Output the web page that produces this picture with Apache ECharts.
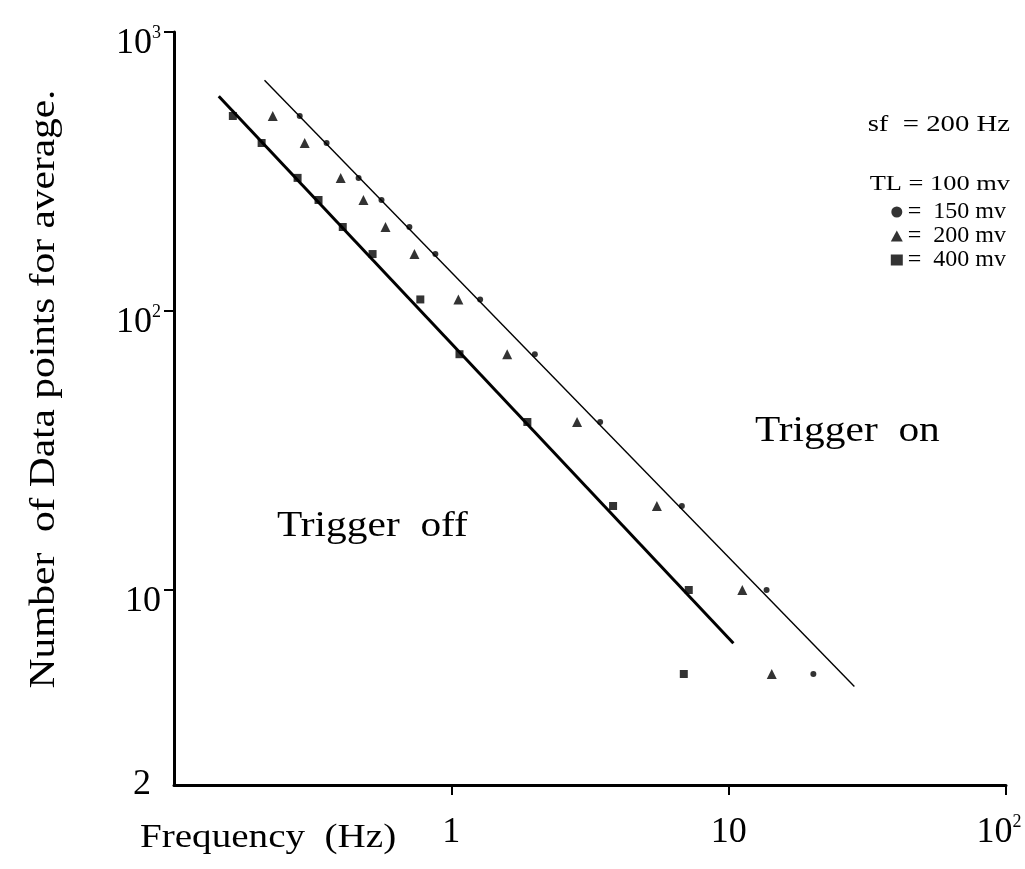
<!DOCTYPE html>
<html>
<head>
<meta charset="utf-8">
<script src="https://cdn.jsdelivr.net/npm/echarts@6/dist/echarts.min.js"></script>
<style>
  html, body { margin: 0; padding: 0; background: #fff; }
  #chart { width: 1025px; height: 869px; }
</style>
</head>
<body>
<div id="chart"></div>
<script>
// number of data points per frequency row (shared by all three thresholds)
const pointCounts = [500, 400, 300, 250, 200, 160, 110, 70, 40, 20, 10, 5];

// frequency (Hz) for each threshold level
const freq150 = [0.284, 0.355, 0.463, 0.560, 0.706, 0.876, 1.27, 2.00, 3.44, 6.78, 13.7, 20.2];
const freq200 = [0.227, 0.296, 0.399, 0.482, 0.579, 0.736, 1.06, 1.59, 2.84, 5.51, 11.2, 14.3];
const freq400 = [0.163, 0.207, 0.279, 0.332, 0.406, 0.520, 0.773, 1.07, 1.88, 3.83, 7.18, 6.89];

// boundary lines (end points)
const thinLineX = [0.212, 28.4];
const thinLineY = [671, 4.51];
const thickLineX = [0.145, 10.4];
const thickLineY = [588, 6.44];

// tick positions
const xTicks = [1, 10, 100];
const yTicks = [10, 100, 1000];

const seriesNames = ['=  150 mv', '=  200 mv', '=  400 mv'];

const FONT = '"Liberation Serif", "DejaVu Serif", serif';
const STRETCH = 1.15; // the scanned lettering is wider than Times

function pairs(xs, ys) {
  return xs.map((x, i) => [x, ys[i]]);
}

function powLabel(v) {
  const p = Math.round(Math.log10(v));
  if (Math.abs(v - 2) < 1e-6) return '{m|2}';
  if (p === 1) return '{n|10}';
  if (p === 0) return '{n|1}';
  if (p >= 2) return '{n|10}{s|' + p + '}';
  return '';
}

function label(text, x, y, size, align, rot, sx) {
  return {
    type: 'text', x: x, y: y, rotation: rot || 0, scaleX: sx || STRETCH,
    style: { text: text, font: size + 'px ' + FONT, fill: '#000', textAlign: align, textVerticalAlign: 'middle' }
  };
}

const chart = echarts.init(document.getElementById('chart'));

chart.setOption({
  backgroundColor: '#fff',
  animation: false,
  grid: { left: 174, right: 19, top: 32, bottom: 84, outerBoundsMode: 'none' },
  xAxis: {
    type: 'log',
    logBase: 10,
    min: 0.1,
    max: 100,
    axisLine: { lineStyle: { color: '#000', width: 3 } },
    axisTick: { show: true, length: 10, customValues: xTicks, lineStyle: { color: '#000', width: 2 } },
    splitLine: { show: false },
    axisLabel: {
      margin: 16,
      color: '#000',
      fontFamily: FONT,
      formatter: powLabel,
      rich: {
        n: { fontSize: 36, fontFamily: FONT, color: '#000', padding: [14, 0, 0, 0] },
        s: { fontSize: 18, fontFamily: FONT, color: '#000', verticalAlign: 'top', padding: [12, 14, 0, 0] },
        m: { fontSize: 36, fontFamily: FONT, color: '#000' }
      }
    }
  },
  yAxis: {
    type: 'log',
    logBase: 10,
    min: 2,
    max: 1000,
    axisLine: { lineStyle: { color: '#000', width: 3 } },
    axisTick: { show: true, length: 10, customValues: yTicks, lineStyle: { color: '#000', width: 2 } },
    splitLine: { show: false },
    axisLabel: {
      margin: 13,
      color: '#000',
      fontFamily: FONT,
      showMinLabel: true,
      showMaxLabel: true,
      formatter: powLabel,
      rich: {
        n: { fontSize: 36, fontFamily: FONT, color: '#000', padding: [24, 0, 0, 0] },
        s: { fontSize: 18, fontFamily: FONT, color: '#000', verticalAlign: 'top', padding: [22, 0, 0, 0] },
        m: { fontSize: 36, fontFamily: FONT, color: '#000', padding: [0, 10, 0, 0] }
      }
    }
  },
  legend: {
    data: seriesNames,
    orient: 'vertical',
    right: 14,
    top: 195,
    itemGap: 0,
    itemWidth: 12,
    itemHeight: 11,
    textStyle: { fontFamily: FONT, fontSize: 24, color: '#000', lineHeight: 21 },
    selectedMode: false
  },
  series: [
    {
      name: 'thin',
      type: 'line',
      data: pairs(thinLineX, thinLineY),
      showSymbol: false,
      lineStyle: { color: '#000', width: 1.4 },
      silent: true
    },
    {
      name: 'thick',
      type: 'line',
      data: pairs(thickLineX, thickLineY),
      showSymbol: false,
      lineStyle: { color: '#000', width: 3 },
      silent: true
    },
    {
      name: seriesNames[0],
      type: 'scatter',
      symbol: 'circle',
      symbolSize: 6,
      itemStyle: { color: '#000' },
      data: pairs(freq150, pointCounts)
    },
    {
      name: seriesNames[1],
      type: 'scatter',
      symbol: 'triangle',
      symbolSize: 10,
      itemStyle: { color: '#000' },
      data: pairs(freq200, pointCounts)
    },
    {
      name: seriesNames[2],
      type: 'scatter',
      symbol: 'rect',
      symbolSize: 8,
      itemStyle: { color: '#000' },
      data: pairs(freq400, pointCounts)
    }
  ],
  graphic: [
    label('Number  of Data points for average.', 45, 389, 36, 'center', Math.PI / 2),
    label('Frequency  (Hz)', 140, 838, 34, 'left'),
    label('Trigger  off', 277, 527, 36, 'left'),
    label('Trigger  on', 755, 432, 36, 'left'),
    label('sf  = 200 Hz', 1010, 125, 23, 'right', 0, 1.25),
    label('TL = 100 mv', 1010, 184, 22, 'right', 0, 1.2)
  ]
});
</script>
</body>
</html>
